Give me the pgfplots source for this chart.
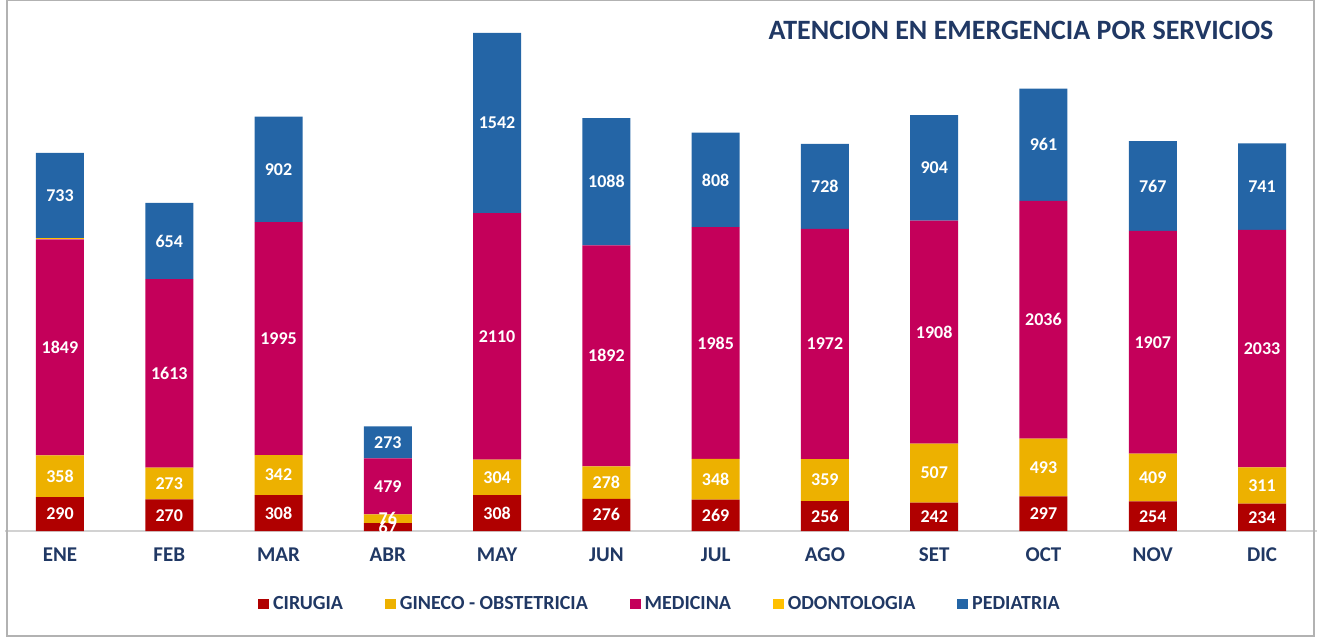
\documentclass[border=0pt]{standalone}
\usepackage{pgfplots}
\usepackage{pgfplotstable}
\pgfplotsset{compat=1.18}
\usepackage{fontspec}
\setmainfont{Carlito}
\definecolor{navy}{HTML}{203864}
\definecolor{cir}{HTML}{B00000}
\definecolor{gin}{HTML}{EDB100}
\definecolor{med}{HTML}{C4005A}
\definecolor{odo}{HTML}{FFC000}
\definecolor{ped}{HTML}{2465A6}
\pgfplotstableread{
x cir gin med odo ped
0 290 358 1849 8 733
1 270 273 1613 0 654
2 308 342 1995 0 902
3 67 76 479 0 273
4 308 304 2110 0 1542
5 276 278 1892 0 1088
6 269 348 1985 0 808
7 256 359 1972 0 728
8 242 507 1908 0 904
9 297 493 2036 0 961
10 254 409 1907 0 767
11 234 311 2033 0 741
}\datatable
\pgfplotsset{
  mid label/.style={
    nodes near coords,
    every node near coord/.append style={
      anchor=center, inner sep=1pt, font=\bfseries\fontsize{9}{10}\selectfont, text=white
    }
  }
}
\begin{document}
\begin{tikzpicture}
\begin{axis}[
  at={(0,0)}, anchor=south west,
  scale only axis, width=655.65pt, height=262.8pt,
  ybar stacked, bar width=24pt,
  xmin=-0.5, xmax=11.5, ymin=0, ymax=4500,
  axis y line=none, axis x line*=bottom,
  x axis line style={draw=gray!35, line width=1pt, -},
  xtick={0,...,11}, major tick length=0pt,
  xticklabels={ENE,FEB,MAR,ABR,MAY,JUN,JUL,AGO,SET,OCT,NOV,DIC},
  xticklabel style={font=\bfseries\fontsize{10.5}{12}\selectfont, text=navy, yshift=-5pt},
  point meta=rawy,
  /pgf/number format/assume math mode=true,
  /pgf/number format/1000 sep={},
  legend columns=5,
  legend style={at={(0.5,-0.139)}, anchor=center, draw=none, fill=none,
    font=\bfseries\fontsize{10}{12}\selectfont, text=navy,
    /tikz/every even column/.append style={column sep=19pt},
    /tikz/every odd column/.append style={column sep=0pt}},
  legend image code/.code={\fill[#1] (0pt,-2.7pt) rectangle (5.4pt,2.7pt);},
  clip=false,
]
\addplot[draw=none, fill=cir, mid label] table[x=x, y=cir] {\datatable};
\addplot[draw=none, fill=gin, mid label] table[x=x, y=gin] {\datatable};
\addplot[draw=none, fill=med, mid label] table[x=x, y=med] {\datatable};
\addplot[draw=none, fill=odo] table[x=x, y=odo] {\datatable};
\addplot[draw=none, fill=ped, mid label] table[x=x, y=ped] {\datatable};
\legend{CIRUGIA,GINECO - OBSTETRICIA,MEDICINA,ODONTOLOGIA,PEDIATRIA}
\node[font=\bfseries\fontsize{14}{16}\selectfont, text=navy] at (rel axis cs:0.7745,0.953) {ATENCION EN EMERGENCIA POR SERVICIOS};
\end{axis}
\pgfresetboundingbox
\path[use as bounding box] (-2.675pt,-55.5pt) rectangle (657.825pt,265.5pt);
\draw[gray!60, line width=0.6pt] (0.8pt,-52.5pt) rectangle (654.3pt,265.2pt);
\end{tikzpicture}
\end{document}
